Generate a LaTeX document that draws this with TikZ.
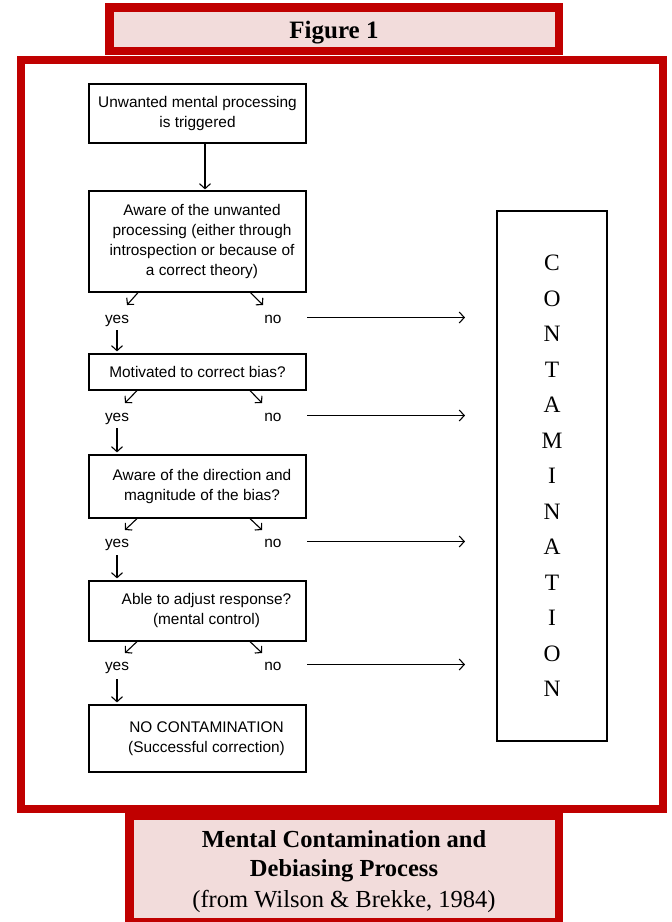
\documentclass[tikz,border=0pt]{standalone}
\usepackage{fontspec}
\setmainfont{Liberation Serif}
\newfontfamily\arial{Liberation Sans}
\usetikzlibrary{arrows.meta}
\definecolor{frred}{HTML}{C00000}
\definecolor{frpink}{HTML}{F2DCDB}
\newcommand{\myshift}{\hspace*{9pt}}
\begin{document}
\begin{tikzpicture}[x=1pt,y=-1pt,
  flowbox/.style={draw=black,line width=1.2pt,minimum width=217pt,inner sep=0pt,align=center,font=\arial\fontsize{15.4pt}{20pt}\selectfont},
  lbl/.style={font=\arial\fontsize{15.4pt}{20pt}\selectfont,inner sep=0pt,anchor=base},
  arr/.style={line width=1.1pt,-{Straight Barb[length=5pt,width=11pt,line width=1.1pt]}},
  darr/.style={line width=1.1pt,-{Straight Barb[length=4.5pt,width=10pt,line width=1.1pt]}},
  redframe/.style={draw=frred,line width=8.5pt},
  pinkbox/.style={draw=frred,fill=frpink,line width=8.5pt,inner sep=0pt},
]
\useasboundingbox (0,0) rectangle (672,922);
% main frame
\node[redframe,minimum width=642pt,minimum height=749pt,inner sep=0pt] (frame) at (342,434.5) {};
% title box
\node[pinkbox,minimum width=449.5pt,minimum height=43.5pt] (titlebox) at (334,29) {};
\node[font=\bfseries\fontsize{25pt}{30pt}\selectfont,inner sep=0pt,anchor=base] (title) at (334,38) {Figure 1};
% bottom box
\node[pinkbox,minimum width=429.5pt,minimum height=106.5pt] (capbox) at (344,868.5) {};
\node[font=\bfseries\fontsize{24.5pt}{30pt}\selectfont,inner sep=0pt,anchor=base] (cap1) at (344,847) {Mental Contamination and};
\node[font=\bfseries\fontsize{24.5pt}{30pt}\selectfont,inner sep=0pt,anchor=base] (cap2) at (344,876) {Debiasing Process};
\node[font=\fontsize{24.5pt}{30pt}\selectfont,inner sep=0pt,anchor=base] (cap3) at (344,907) {(from Wilson \& Brekke, 1984)};
% flow boxes
\node[flowbox,minimum height=59pt] (b1) at (197.5,113.5) {Unwanted mental processing\\is triggered};
\node[flowbox,minimum height=101pt] (b2) at (197.5,241.5) {\myshift Aware of the unwanted\\\myshift processing (either through\\\myshift introspection or because of\\\myshift a correct theory)};
\node[flowbox,minimum height=36pt] (b3) at (197.5,372) {Motivated to correct bias?};
\node[flowbox,minimum height=63pt] (b4) at (197.5,486.5) {\myshift Aware of the direction and\\\myshift magnitude of the bias?};
\node[flowbox,minimum height=60pt] (b5) at (197.5,611) {\myshift\myshift Able to adjust response?\\\myshift\myshift (mental control)};
\node[flowbox,minimum height=67pt] (b6) at (197.5,738.5) {\myshift\myshift NO CONTAMINATION\\\myshift\myshift (Successful correction)};
% contamination box
\node[draw,line width=1.2pt,minimum width=110pt,minimum height=530pt,inner sep=0pt,align=center,font=\fontsize{23.5pt}{35.5pt}\selectfont] (cont) at (552,476) {C\\O\\N\\T\\A\\M\\I\\N\\A\\T\\I\\O\\N};
% yes / no labels
\node[lbl] (y1) at (117,323) {yes};
\node[lbl] (n1) at (273,323) {no};
\node[lbl] (y2) at (117,421) {yes};
\node[lbl] (n2) at (273,421) {no};
\node[lbl] (y3) at (117,547) {yes};
\node[lbl] (n3) at (273,547) {no};
\node[lbl] (y4) at (117,670) {yes};
\node[lbl] (n4) at (273,670) {no};
% free arrow ends
\coordinate (dl1) at (127,305); \coordinate (dr1) at (263,305);
\coordinate (dl2) at (125,403); \coordinate (dr2) at (262,403);
\coordinate (dl3) at (125,530); \coordinate (dr3) at (262,530);
\coordinate (dl4) at (125,653); \coordinate (dr4) at (262,653);
\coordinate (s1) at (307,317.5); \coordinate (e1) at (465,317.5);
\coordinate (s2) at (307,415.5); \coordinate (e2) at (465,415.5);
\coordinate (s3) at (307,541.5); \coordinate (e3) at (465,541.5);
\coordinate (s4) at (307,664.5); \coordinate (e4) at (465,664.5);
% arrows
\draw[arr] ([xshift=7.5pt]b1.south) -- ([xshift=7.5pt,yshift=1pt]b2.north);
\draw[darr] ([xshift=-59.5pt]b2.south) -- (dl1);
\draw[darr] ([xshift=53pt]b2.south) -- (dr1);
\draw[darr] ([xshift=-60.5pt]b3.south) -- (dl2);
\draw[darr] ([xshift=52.5pt]b3.south) -- (dr2);
\draw[darr] ([xshift=-60.5pt]b4.south) -- (dl3);
\draw[darr] ([xshift=52.5pt]b4.south) -- (dr3);
\draw[darr] ([xshift=-60.5pt]b5.south) -- (dl4);
\draw[darr] ([xshift=52.5pt]b5.south) -- (dr4);
\draw[arr] ([yshift=-4pt]y1.south) -- ([yshift=2pt]b3.north -| y1.south);
\draw[arr] ([yshift=-4pt]y2.south) -- ([yshift=2pt]b4.north -| y2.south);
\draw[arr] ([yshift=-5pt]y3.south) -- ([yshift=2pt]b5.north -| y3.south);
\draw[arr] ([yshift=-6pt]y4.south) -- ([yshift=2pt]b6.north -| y4.south);
\draw[arr] (s1) -- (e1);
\draw[arr] (s2) -- (e2);
\draw[arr] (s3) -- (e3);
\draw[arr] (s4) -- (e4);
\end{tikzpicture}
\end{document}
